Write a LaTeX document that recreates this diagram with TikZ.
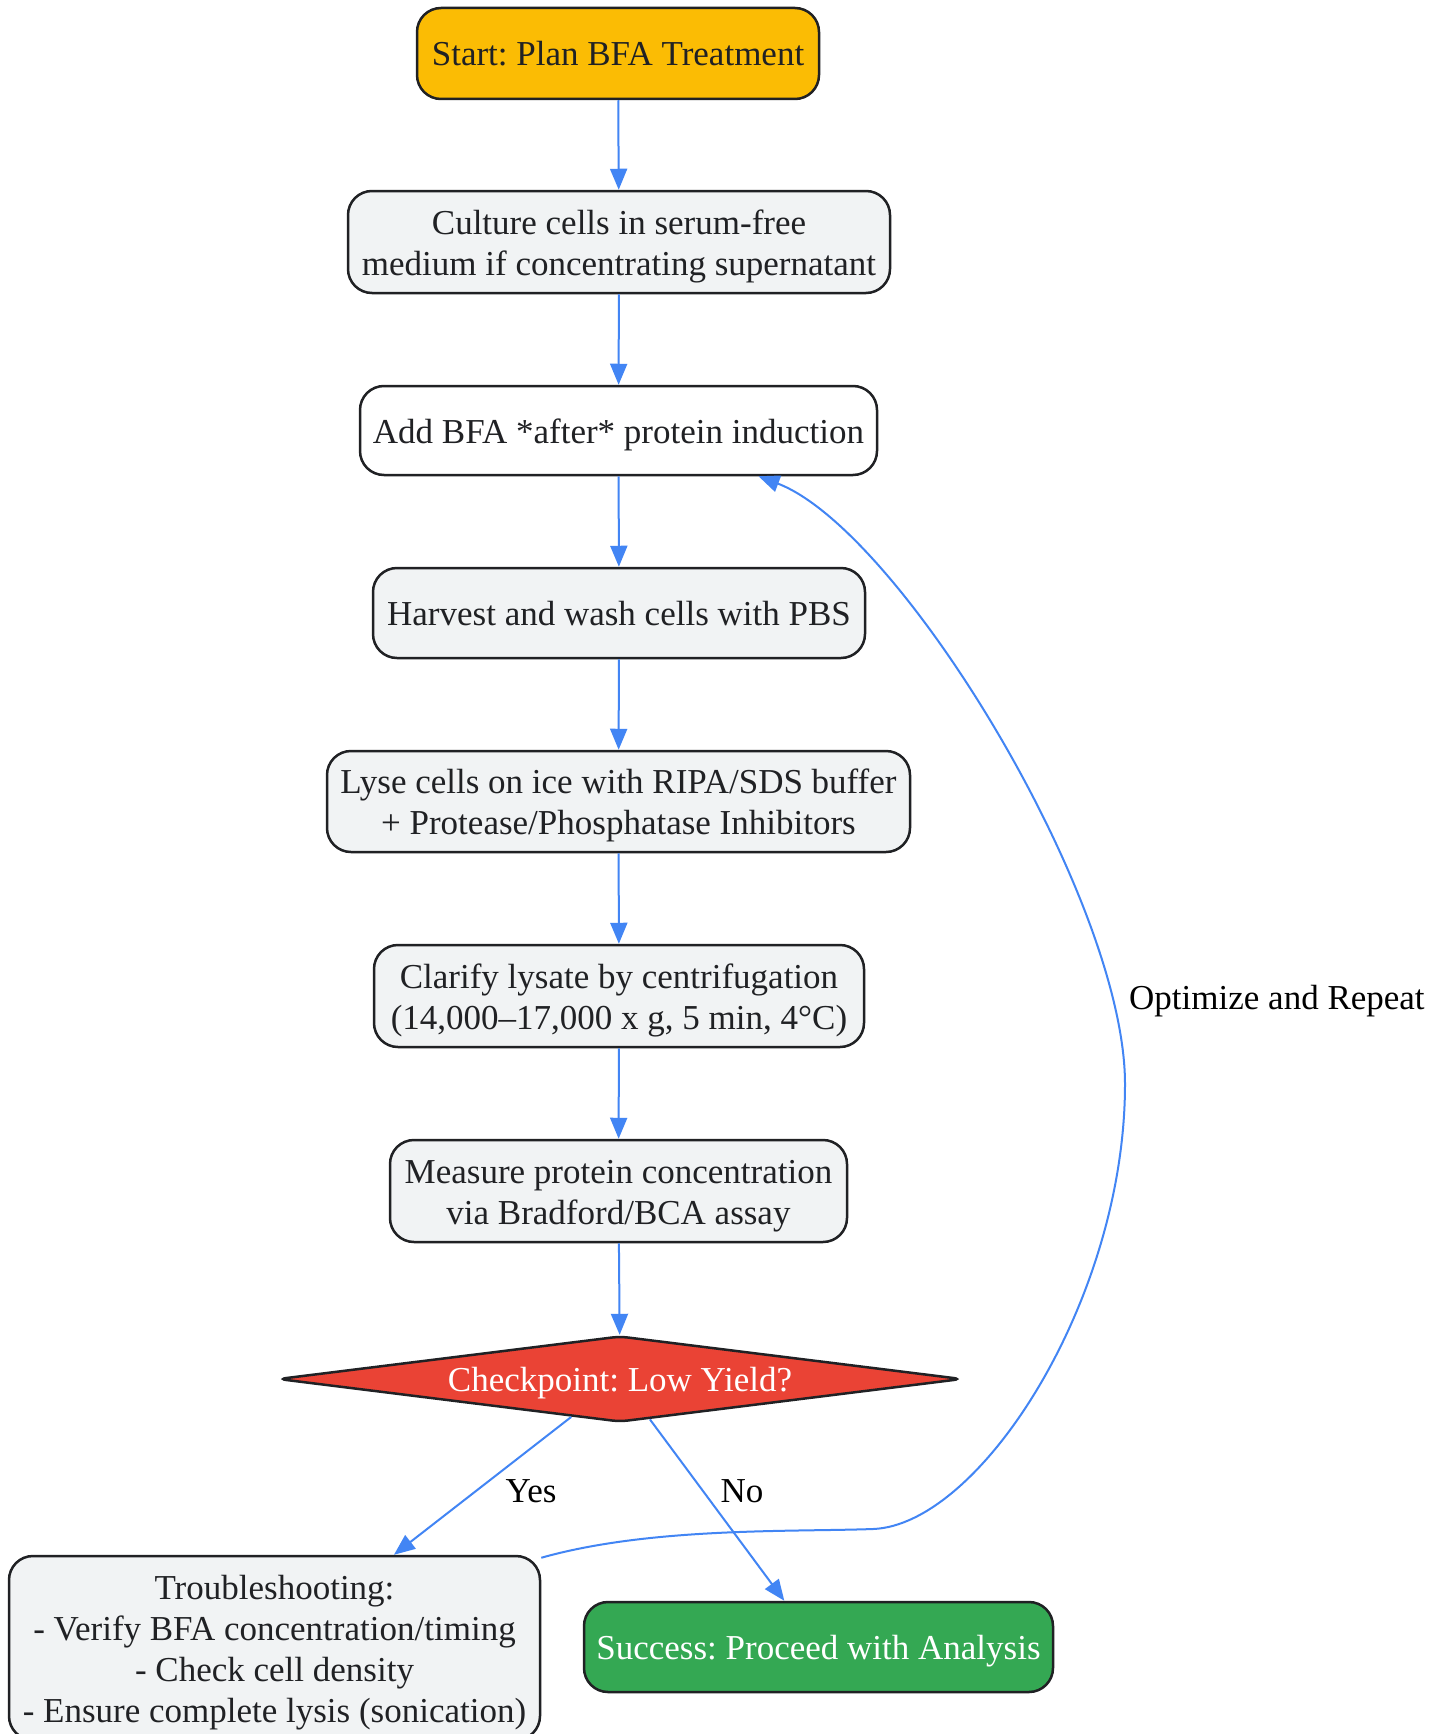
\documentclass[tikz,border=0pt]{standalone}
\usepackage{fontspec}
\setmainfont{Liberation Serif}
\usetikzlibrary{shapes.geometric,arrows.meta}
\definecolor{edgeblue}{HTML}{4285F4}
\definecolor{bord}{HTML}{202124}
\definecolor{txt}{HTML}{202124}
\definecolor{procfill}{HTML}{F1F3F4}
\definecolor{startfill}{HTML}{FBBC04}
\definecolor{checkfill}{HTML}{EA4335}
\definecolor{okfill}{HTML}{34A853}
\newcommand{\gvs}{\rule[-8pt]{0pt}{41pt}}
\frenchspacing
\begin{document}
\begin{tikzpicture}[x=1pt,y=-1pt,
  box/.style={draw=bord, line width=2.5pt, rounded corners=24pt, fill=procfill, text=txt,
    font=\fontsize{35}{41}\selectfont, align=center, inner sep=0pt},
  chk/.style={diamond, draw=bord, line width=2.5pt, fill=checkfill, text=white, aspect=8,
    rounded corners=8pt, font=\fontsize{35}{41}\selectfont, inner sep=0pt},
  arr/.style={draw=edgeblue, line width=2pt, -{Triangle[length=21pt,width=17pt]}},
  lab/.style={font=\fontsize{35}{41}\selectfont, text=black, inner sep=0pt}]
\useasboundingbox (0,0) rectangle (1444,1734);
\fill[white] (0,0) rectangle (1444,1734);

\node[box, fill=startfill, minimum width=402pt, minimum height=91pt] (start) at (618,53.5) {\gvs Start: Plan BFA Treatment};
\node[box, minimum width=542pt, minimum height=102pt] (culture) at (619,242) {\gvs Culture cells in serum-free\\medium if concentrating supernatant\gvs};
\node[box, fill=white, minimum width=517pt, minimum height=89pt] (add) at (618.5,430.5) {\gvs Add BFA *after* protein induction};
\node[box, minimum width=492pt, minimum height=90pt] (harvest) at (619,613) {\gvs Harvest and wash cells with PBS};
\node[box, minimum width=583pt, minimum height=101pt] (lyse) at (618.5,801.5) {\gvs Lyse cells on ice with RIPA/SDS buffer\\+ Protease/Phosphatase Inhibitors\gvs};
\node[box, minimum width=490pt, minimum height=102pt] (clarify) at (619,996) {\gvs Clarify lysate by centrifugation\\(14,000–17,000 x g, 5 min, 4°C)\gvs};
\node[box, minimum width=457pt, minimum height=102pt] (measure) at (618.5,1191) {\gvs Measure protein concentration\\via Bradford/BCA assay\gvs};
\node[chk, minimum width=684pt, minimum height=86pt] (dia) at (620,1379) {\gvs Checkpoint: Low Yield?};
\node[box, minimum width=531pt, minimum height=184pt] (trouble) at (274.5,1648) {\gvs Troubleshooting:\\- Verify BFA concentration/timing\\- Check cell density\\- Ensure complete lysis (sonication)\gvs};
\node[box, fill=okfill, text=white, minimum width=469pt, minimum height=90pt] (success) at (818.5,1647) {\gvs Success: Proceed with Analysis};

\draw[arr] (start) -- (culture);
\draw[arr] (culture) -- (add);
\draw[arr] (add) -- (harvest);
\draw[arr] (harvest) -- (lyse);
\draw[arr] (lyse) -- (clarify);
\draw[arr] (clarify) -- (measure);
\draw[arr] (measure) -- (dia);
\draw[arr] (dia) -- (trouble);
\draw[arr] (dia) -- (success);
\draw[arr] ([yshift=-3pt]trouble.north east) .. controls (650,1527) and (790,1532) .. (873,1529)
  .. controls (980,1525) and (1125,1300) .. (1125,1084)
  .. controls (1125,900) and (900,530) .. ([xshift=140pt]add.south);

\node[lab] (yes) at (531,1490) {\gvs Yes};
\node[lab] (no) at (742,1490) {\gvs No};
\node[lab, anchor=west] (opt) at (1129,997) {\gvs Optimize and Repeat};
\end{tikzpicture}
\end{document}
